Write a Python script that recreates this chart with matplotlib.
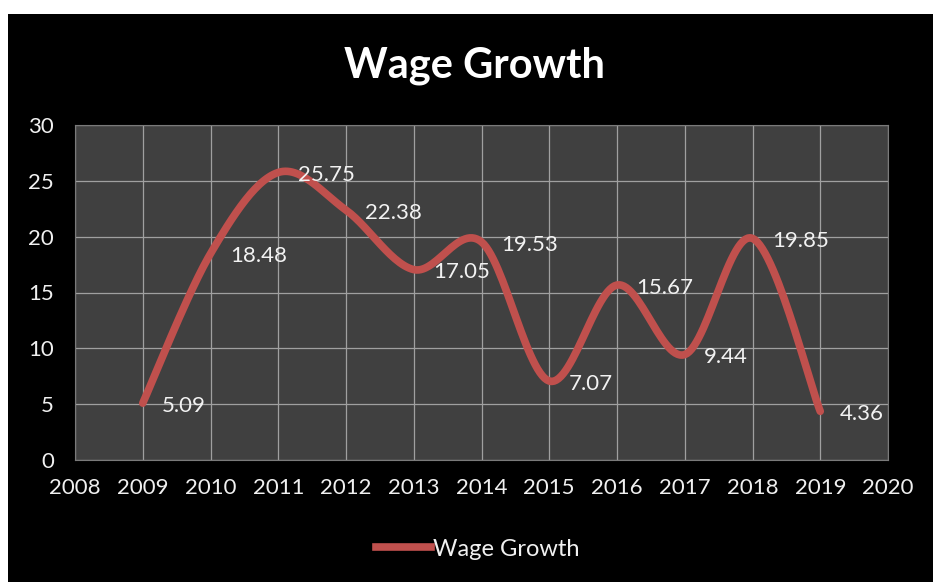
import numpy as np
import matplotlib.pyplot as plt
from matplotlib.patches import Rectangle
from matplotlib.lines import Line2D

years = [2009, 2010, 2011, 2012, 2013, 2014, 2015, 2016, 2017, 2018, 2019]
wage_growth = [5.09, 18.48, 25.75, 22.38, 17.05, 19.53, 7.07, 15.67, 9.44, 19.85, 4.36]
x_ticks = list(range(2008, 2021))
y_ticks = [0, 5, 10, 15, 20, 25, 30]

LINE_COLOR = "#c0504d"
FONT = "Lato"


def smooth_curve(x, y, steps=30):
    # Catmull-Rom style smoothing (spreadsheet "smoothed line")
    x = np.asarray(x, float)
    y = np.asarray(y, float)
    px = np.concatenate([[x[0]], x, [x[-1]]])
    py = np.concatenate([[y[0]], y, [y[-1]]])
    xs, ys = [], []
    t = np.linspace(0, 1, steps)
    for i in range(1, len(px) - 2):
        p0, p1, p2, p3 = (np.array([px[j], py[j]]) for j in range(i - 1, i + 3))
        c1 = p1 + (p2 - p0) / 6
        c2 = p2 - (p3 - p1) / 6
        b = ((1 - t) ** 3)[:, None] * p1 + (3 * (1 - t) ** 2 * t)[:, None] * c1 \
            + (3 * (1 - t) * t ** 2)[:, None] * c2 + (t ** 3)[:, None] * p2
        xs.extend(b[:, 0])
        ys.extend(b[:, 1])
    return np.array(xs), np.array(ys)


fig = plt.figure(figsize=(9.33, 5.82), dpi=100, facecolor="white")
fig.add_artist(Rectangle((8 / 933, 0), 1, 1 - 14 / 582, transform=fig.transFigure,
                         facecolor="black", edgecolor="none", zorder=0))

ax = fig.add_axes([75 / 933, 122 / 582, 813 / 933, 335 / 582])
ax.set_facecolor("#404040")
ax.set_xlim(2008, 2020)
ax.set_ylim(0, 30)
ax.set_xticks(x_ticks)
ax.set_yticks(y_ticks)
ax.grid(True, color="#a0a0a0", linewidth=0.9)
ax.set_axisbelow(True)
for s in ax.spines.values():
    s.set_color("#7a7a7a")
    s.set_linewidth(0.8)
ax.tick_params(length=0, colors="white", labelsize=16, pad=13)
ax.tick_params(axis="y", pad=15)
for lab in ax.get_xticklabels() + ax.get_yticklabels():
    lab.set_fontfamily(FONT)
    lab.set_color("#f0f0f0")

sx, sy = smooth_curve(years, wage_growth)
ax.plot(sx, sy, color=LINE_COLOR, linewidth=5.5, solid_capstyle="round", zorder=3)

for xv, yv in zip(years, wage_growth):
    ax.annotate(f"{yv:.2f}", (xv, yv), xytext=(14, -2), textcoords="offset points",
                ha="left", va="center", fontsize=16, color="#f2f2f2",
                fontfamily=FONT, zorder=4)

fig.text(475 / 933, 1 - 66 / 582, "Wage Growth", ha="center", va="center",
         fontsize=30, fontweight="bold", color="white", fontfamily=FONT)

handle = Line2D([], [], color=LINE_COLOR, linewidth=5.5)
leg = fig.legend([handle], ["Wage Growth"], loc="center", bbox_to_anchor=(478 / 933, 1 - 549 / 582),
                 frameon=False, handlelength=2.3, handletextpad=0.1,
                 prop={"family": FONT, "size": 17})
for t in leg.get_texts():
    t.set_color("#f0f0f0")

fig.savefig("out.png", dpi=100, facecolor="white")
